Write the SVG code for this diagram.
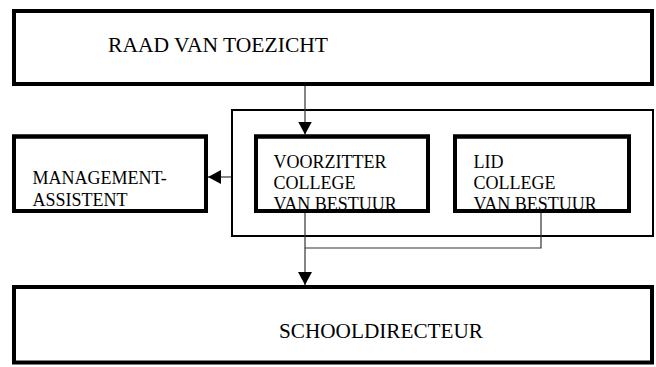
<svg xmlns="http://www.w3.org/2000/svg" width="656" height="367" viewBox="0 0 656 367">
<style>
.box{fill:#fff;stroke:#000;stroke-width:4}
.frame{fill:none;stroke:#000;stroke-width:4}
.cont{fill:none;stroke:#000;stroke-width:2}
.lbl{font-family:"Liberation Serif","Times New Roman",serif;font-size:18px;fill:#000}
.big{font-family:"Liberation Serif","Times New Roman",serif;font-size:21px;fill:#000}
.con{fill:none;stroke:#333;stroke-width:1.2}
</style>
<defs>
<marker id="ah" markerUnits="userSpaceOnUse" markerWidth="14" markerHeight="14" viewBox="0 0 14 14" refX="13" refY="7" orient="auto">
<path d="M0,0 L13,7 L0,14 Z" fill="#000"/>
</marker>
</defs>
<g id="container"><rect x="232" y="110" width="421" height="126" class="cont"/></g>
<g id="connectors">
<line x1="305" y1="86" x2="305" y2="134.5" class="con" marker-end="url(#ah)"/>
<line x1="231" y1="177" x2="208" y2="177" class="con" marker-end="url(#ah)"/>
<polyline points="541,213 541,248 305,248" class="con"/>
<line x1="305" y1="213" x2="305" y2="285" class="con" marker-end="url(#ah)"/>
</g>
<g id="raad">
<rect x="14" y="11" width="638" height="73" class="box"/>
<text x="108" y="51.7" class="big" textLength="220" lengthAdjust="spacingAndGlyphs">RAAD VAN TOEZICHT</text>
</g>
<g id="management">
<rect x="14" y="136.5" width="192" height="74.5" class="box"/>
<text x="32.5" y="184" class="lbl">MANAGEMENT-</text>
<text x="32.5" y="205.7" class="lbl">ASSISTENT</text>
<rect x="14" y="136.5" width="192" height="74.5" class="frame"/>
</g>
<g id="voorzitter">
<rect x="256" y="136.5" width="172" height="74.5" class="box"/>
<text x="273.5" y="167.5" class="lbl">VOORZITTER</text>
<text x="273.5" y="189" class="lbl">COLLEGE</text>
<text x="273.5" y="209.8" class="lbl">VAN BESTUUR</text>
<rect x="256" y="136.5" width="172" height="74.5" class="frame"/>
</g>
<g id="lid">
<rect x="455" y="136.5" width="174" height="74.5" class="box"/>
<text x="473.5" y="167.5" class="lbl">LID</text>
<text x="473.5" y="189" class="lbl">COLLEGE</text>
<text x="473.5" y="209.8" class="lbl">VAN BESTUUR</text>
<rect x="455" y="136.5" width="174" height="74.5" class="frame"/>
</g>
<g id="schooldirecteur">
<rect x="14" y="287" width="638" height="75.5" class="box"/>
<text x="279" y="337.7" class="big" textLength="204" lengthAdjust="spacingAndGlyphs">SCHOOLDIRECTEUR</text>
</g>
</svg>
